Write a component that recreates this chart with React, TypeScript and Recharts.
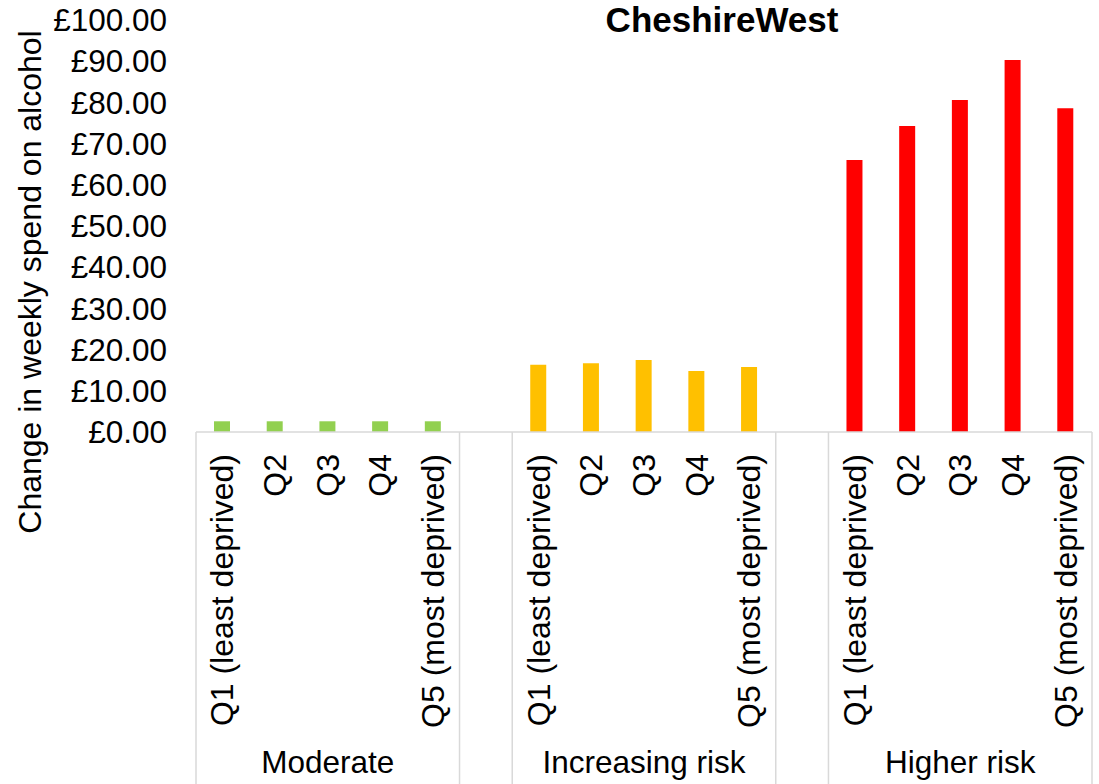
import { Bar, BarChart, Cell, XAxis, YAxis } from 'recharts'

const groups = ['Moderate', 'Increasing risk', 'Higher risk']
const quintiles = ['Q1 (least deprived)', 'Q2', 'Q3', 'Q4', 'Q5 (most deprived)']
const moderate = [2.6, 2.6, 2.6, 2.6, 2.6]
const increasingRisk = [16.3, 16.7, 17.5, 14.8, 15.8]
const higherRisk = [66.0, 74.3, 80.6, 90.3, 78.6]
const yTicks = [0, 10, 20, 30, 40, 50, 60, 70, 80, 90, 100]

const groupColors = ['#92d050', '#ffc000', '#ff0000']
const FONT = '"Liberation Sans", Arial, sans-serif'
const GRID = '#d9d9d9'

interface Row {
  key: string
  label: string
  group: string
  groupIndex: number
  pos: number // position inside group, -1 for spacer
  value: number | null
}

// spacer rows between the groups, as in the source sheet
const rows: Row[] = []
;[moderate, increasingRisk, higherRisk].forEach((values, g) => {
  if (g > 0) rows.push({ key: `gap${g}`, label: '', group: '', groupIndex: g, pos: -1, value: null })
  values.forEach((v, i) =>
    rows.push({ key: `${g}-${i}`, label: quintiles[i], group: groups[g], groupIndex: g, pos: i, value: v }),
  )
})

function CategoryTick(props: any) {
  const { x, y, payload, index } = props
  const row = rows[index]
  const half = payload?.offset || 26.35
  const lineBottom = 784
  return (
    <g>
      {(row.pos === 0 || row.pos === -1) && (
        <line x1={x - half} x2={x - half} y1={y} y2={lineBottom} stroke={GRID} strokeWidth={1.5} />
      )}
      {index === rows.length - 1 && (
        <line x1={x + half} x2={x + half} y1={y} y2={lineBottom} stroke={GRID} strokeWidth={1.5} />
      )}
      {row.label && (
        <text
          x={x}
          y={y + 22}
          transform={`rotate(-90, ${x}, ${y + 22})`}
          textAnchor="end"
          dominantBaseline="central"
          fontFamily={FONT}
          fontSize={32}
          fill="#000"
        >
          {row.label}
        </text>
      )}
      {row.pos === 2 && (
        <text x={x} y={y + 341} textAnchor="middle" fontFamily={FONT} fontSize={31.5} fill="#000">
          {row.group}
        </text>
      )}
    </g>
  )
}

function YTitle(props: any) {
  const vb = props.viewBox || { x: 0, y: 20, width: 196, height: 412 }
  const cx = vb.x + 30
  const cy = vb.y + vb.height / 2 + 56
  return (
    <text
      x={cx}
      y={cy}
      transform={`rotate(-90, ${cx}, ${cy})`}
      textAnchor="middle"
      dominantBaseline="central"
      fontFamily={FONT}
      fontSize={32}
      fill="#000"
    >
      Change in weekly spend on alcohol
    </text>
  )
}

export default function App() {
  return (
    <div style={{ position: 'relative', width: 1099, height: 784, background: '#fff' }}>
      <style>{'body{margin:0}'}</style>
      <BarChart width={1099} height={784} data={rows} margin={{ top: 20, right: 7, bottom: 0, left: 0 }}>
        <XAxis
          dataKey="key"
          interval={0}
          height={352}
          tickLine={false}
          tickSize={0}
          tickMargin={0}
          axisLine={{ stroke: GRID, strokeWidth: 1.5 }}
          tick={<CategoryTick />}
        />
        <YAxis
          width={196}
          domain={[0, 100]}
          ticks={yTicks}
          axisLine={false}
          tickLine={false}
          tickSize={0}
          tickMargin={29}
          tickFormatter={(v: number) => `£${v.toFixed(2)}`}
          tick={{ fill: '#000', fontSize: 31.5, fontFamily: FONT }}
          label={{ content: <YTitle /> }}
        />
        <Bar dataKey="value" barSize={16} isAnimationActive={false}>
          {rows.map((r) => (
            <Cell key={r.key} fill={groupColors[r.groupIndex]} />
          ))}
        </Bar>
      </BarChart>
      <div
        style={{
          position: 'absolute',
          top: 0,
          left: 572,
          width: 300,
          textAlign: 'center',
          fontFamily: FONT,
          fontWeight: 'bold',
          fontSize: 35,
          lineHeight: '40px',
          color: '#000',
          whiteSpace: 'nowrap',
        }}
      >
        CheshireWest
      </div>
    </div>
  )
}
